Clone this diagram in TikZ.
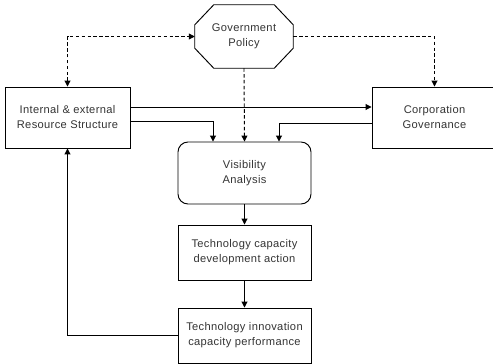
\documentclass[tikz,border=0pt]{standalone}
\usepackage{fontspec}
\setmainfont[LetterSpace=3]{Liberation Sans}
\usetikzlibrary{arrows.meta}
\begin{document}
\begin{tikzpicture}[x=0.03cm,y=-0.03cm,
    every node/.style={font=\fontsize{9.5}{12.8}\selectfont,align=center,text=black!80},
    box/.style={draw,line width=0.8pt,inner sep=0pt},
    link/.style={line width=0.8pt,-{Triangle[length=5pt,width=5pt]}},
    policy/.style={link,dashed,dash pattern=on 3pt off 2pt}]
      \useasboundingbox (0,0) rectangle (493,364);
      \clip (0,0) rectangle (493,364);
      \draw
        (244,36.5) node[inner sep=0pt,minimum width=2.94cm,minimum height=1.89cm] (gov){Government\\Policy}
        (67.5,117.5) node[box,minimum width=3.75cm,minimum height=1.83cm] (res){Internal \& external\\Resource Structure}
        (434.5,117.5) node[box,minimum width=3.75cm,minimum height=1.83cm] (corp){Corporation\\Governance}
        (244.5,173) node[box,rounded corners=0.3cm,minimum width=3.99cm,minimum height=1.86cm] (vis){Visibility\\Analysis}
        (244.5,252.5) node[box,minimum width=3.99cm,minimum height=1.65cm] (dev){Technology capacity\\development action}
        (244.5,335.5) node[box,minimum width=3.99cm,minimum height=1.65cm] (perf){Technology innovation\\capacity performance};
      % octagon round the policy node
      \draw[line width=0.8pt] ([xshift=0.57cm]gov.north west) -- ([xshift=-0.57cm]gov.north east)
        -- ([yshift=-0.6cm]gov.north east) -- ([yshift=0.6cm]gov.south east)
        -- ([xshift=-0.57cm]gov.south east) -- ([xshift=0.57cm]gov.south west)
        -- ([yshift=0.6cm]gov.south west) -- ([yshift=-0.6cm]gov.north west) -- cycle;
      \begin{scope}[policy]
        \draw[{Triangle[length=5pt,width=5pt]}-{Triangle[length=5pt,width=5pt]}] (res.north) |- (gov.west);
        \draw (gov.east) -| (corp.north);
        \draw (gov.south) -- (vis.north);
      \end{scope}
      \begin{scope}[link]
        \draw (res.east |- 0,107) -- (corp.west |- 0,107);
        \draw (res.east |- 0,121) -| (213,0 |- vis.north);
        \draw (corp.west |- 0,123) -| (279,0 |- vis.north);
        \draw (vis) -- (dev);
        \draw (dev) -- (perf);
        \draw (perf.west) -| (res.south);
      \end{scope}
    \end{tikzpicture}
\end{document}
